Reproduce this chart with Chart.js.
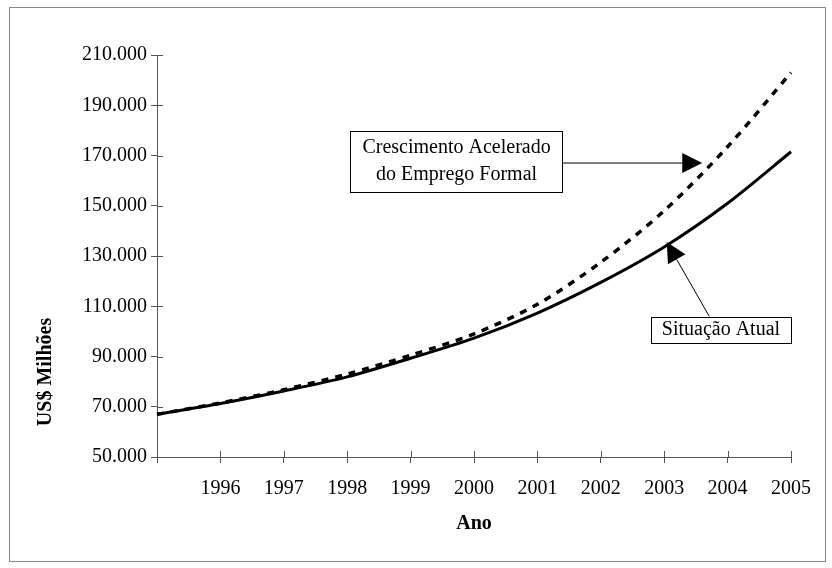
<!DOCTYPE html>
<html>
<head>
<meta charset="utf-8">
<script src="https://cdn.jsdelivr.net/npm/chart.js@4/dist/chart.umd.min.js"></script>
<style>
  html, body { margin: 0; padding: 0; background: #fff; }
  #wrap { width: 832px; height: 568px; position: relative; }
</style>
</head>
<body>
<div id="wrap"><canvas id="grafico"></canvas></div>
<script>
// dados
const anos = [1995, 1996, 1997, 1998, 1999, 2000, 2001, 2002, 2003, 2004, 2005];
const situacaoAtual = [67000, 71300, 76300, 81900, 89300, 97300, 107300, 119500, 133600, 151000, 171500];
const crescimentoAcelerado = [67000, 71500, 76800, 83000, 90500, 99000, 110800, 127500, 148000, 173500, 203000];
const yMin = 50000, yMax = 210000, yPasso = 20000;

const FONTE = '"Liberation Serif", "Times New Roman", serif';
const CINZA = '#555';

// caixas de texto com seta (posicoes em ano / valor)
const notas = [
  { linhas: ['Crescimento Acelerado', 'do Emprego Formal'],
    caixa: [1998.05, 179800, 2001.4, 155500],
    de: [2001.4, 167000], ate: [2003.6, 167000] },
  { linhas: ['Situação Atual'],
    caixa: [2002.79, 105700, 2005.0, 95400],
    de: [2003.71, 106000], ate: [2003.04, 135600] }
];

const extras = {
  id: 'extras',
  beforeDraw(chart) {
    const ctx = chart.ctx;
    ctx.save();
    ctx.fillStyle = '#fff';
    ctx.fillRect(0, 0, chart.width, chart.height);
    ctx.strokeStyle = '#888';
    ctx.lineWidth = 1;
    ctx.strokeRect(9.5, 7.5, 816, 554);
    ctx.restore();
  },
  afterDraw(chart) {
    const ctx = chart.ctx;
    const x = chart.scales.x, y = chart.scales.y;
    const px = a => x.getPixelForValue(a - anos[0]);
    const py = v => y.getPixelForValue(v);
    ctx.save();
    // marcas de divisao cruzando os eixos (parte interna)
    ctx.strokeStyle = CINZA;
    ctx.lineWidth = 1;
    ctx.beginPath();
    x.ticks.forEach((t, i) => {
      const p = Math.round(x.getPixelForTick(i)) + 0.5;
      ctx.moveTo(p, x.top - 6); ctx.lineTo(p, x.top);
    });
    y.ticks.forEach((t, i) => {
      const p = Math.round(y.getPixelForTick(i)) + 0.5;
      ctx.moveTo(y.right, p); ctx.lineTo(y.right + 6, p);
    });
    ctx.stroke();

    // titulos dos eixos
    ctx.fillStyle = '#000';
    ctx.font = 'bold 20px ' + FONTE;
    ctx.textAlign = 'center';
    ctx.textBaseline = 'middle';
    ctx.fillText('Ano', (chart.chartArea.left + chart.chartArea.right) / 2, 524);
    ctx.save();
    ctx.translate(46, 372);
    ctx.rotate(-Math.PI / 2);
    ctx.fillText('US$ Milhões', 0, 0);
    ctx.restore();

    // notas
    notas.forEach(n => {
      const x1 = px(n.caixa[0]), y1 = py(n.caixa[1]);
      const x2 = px(n.caixa[2]), y2 = py(n.caixa[3]);
      ctx.fillStyle = '#fff';
      ctx.fillRect(x1, y1, x2 - x1, y2 - y1);
      ctx.strokeStyle = '#000';
      ctx.lineWidth = 1;
      ctx.strokeRect(Math.round(x1) + 0.5, Math.round(y1) + 0.5, Math.round(x2 - x1), Math.round(y2 - y1));
      ctx.fillStyle = '#000';
      ctx.font = '20px ' + FONTE;
      const cy = (y1 + y2) / 2, lh = 27;
      n.linhas.forEach((l, i) => {
        ctx.fillText(l, (x1 + x2) / 2, cy + (i - (n.linhas.length - 1) / 2) * lh);
      });
      // seta
      const sx = px(n.de[0]), sy = py(n.de[1]);
      const tx = px(n.ate[0]), ty = py(n.ate[1]);
      const len = Math.hypot(tx - sx, ty - sy);
      const ux = (tx - sx) / len, uy = (ty - sy) / len;
      const bx = tx - ux * 20, by = ty - uy * 20;
      ctx.beginPath();
      ctx.moveTo(sx, sy); ctx.lineTo(bx, by);
      ctx.stroke();
      ctx.beginPath();
      ctx.moveTo(tx, ty);
      ctx.lineTo(bx - uy * 10, by + ux * 10);
      ctx.lineTo(bx + uy * 10, by - ux * 10);
      ctx.closePath();
      ctx.fill();
    });
    ctx.restore();
  }
};

new Chart(document.getElementById('grafico'), {
  type: 'line',
  data: {
    labels: anos,
    datasets: [
      {
        label: 'Crescimento Acelerado do Emprego Formal',
        data: crescimentoAcelerado,
        borderColor: '#000',
        borderWidth: 3.5,
        borderDash: [7, 7],
        pointRadius: 0,
        tension: 0.3,
        fill: false
      },
      {
        label: 'Situação Atual',
        data: situacaoAtual,
        borderColor: '#000',
        borderWidth: 3,
        pointRadius: 0,
        tension: 0.3,
        fill: false
      }
    ]
  },
  options: {
    responsive: true,
    maintainAspectRatio: false,
    animation: false,
    layout: { padding: { top: 55, right: 41, left: 0, bottom: 0 } },
    plugins: { legend: { display: false }, tooltip: { enabled: false } },
    scales: {
      x: {
        type: 'category',
        offset: false,
        grid: { drawOnChartArea: false, drawTicks: true, tickLength: 6, color: CINZA },
        border: { display: true, color: CINZA, width: 1 },
        ticks: {
          color: '#000',
          font: { family: FONTE, size: 20 },
          padding: 14,
          maxRotation: 0,
          autoSkip: false,
          callback: function (v, i) { return i === 0 ? '' : anos[i]; }
        },
        afterFit: s => { s.height = 568 - 457; }
      },
      y: {
        min: yMin,
        max: yMax,
        grid: { drawOnChartArea: false, drawTicks: true, tickLength: 6, color: CINZA },
        border: { display: true, color: CINZA, width: 1 },
        ticks: {
          stepSize: yPasso,
          color: '#000',
          font: { family: FONTE, size: 20 },
          padding: 4,
          callback: v => (v / 1000).toFixed(3)
        },
        afterFit: s => { s.width = 157; }
      }
    }
  },
  plugins: [extras]
});
</script>
</body>
</html>
